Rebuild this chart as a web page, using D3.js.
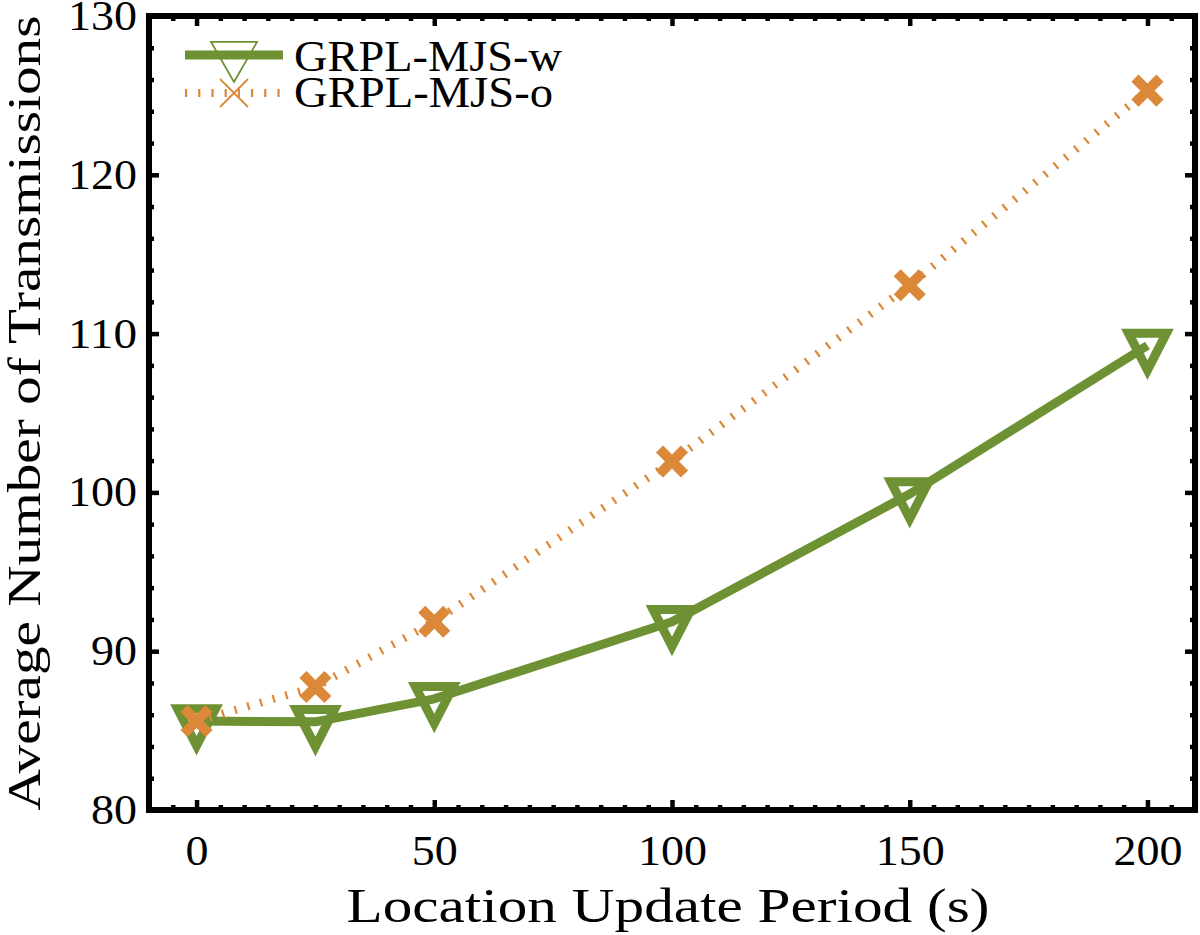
<!DOCTYPE html>
<html>
<head>
<meta charset="utf-8">
<script src="https://cdn.jsdelivr.net/npm/d3@7"></script>
<style>
  html, body { margin: 0; padding: 0; background: #fff; }
  svg { display: block; }
</style>
</head>
<body>
<script>
// ---- data ----
const periods = [0, 25, 50, 100, 150, 200];
const seriesW = [85.6, 85.55, 87.0, 91.85, 99.9, 109.25];
const seriesO = [85.6, 87.75, 91.85, 101.95, 113.05, 125.3];
const seriesNames = ["GRPL-MJS-w", "GRPL-MJS-o"];
const xTickValues = [0, 50, 100, 150, 200];
const yTickValues = [80, 90, 100, 110, 120, 130];
const xTitle = "Location Update Period (s)";
const yTitle = "Average Number of Transmissions";

// ---- layout ----
const W = 1200, H = 935;
const L = 149, R = 1195, T = 16, B = 810;
const green = "#6E9233", orange = "#DB8838";
const font = "'Liberation Serif', 'Times New Roman', serif";

const svg = d3.select("body").append("svg").attr("width", W).attr("height", H);

const x = d3.scaleLinear().domain([-10, 210]).range([L, R]);
const y = d3.scaleLinear().domain([80, 130]).range([B, T]);

const xMinor = d3.range(-5, 210, 5).filter(v => v % 50 !== 0);
const yMinor = d3.range(82, 130, 2).filter(v => v % 10 !== 0);

function styleAxis(g, labels) {
  g.select(".domain").remove();
  g.selectAll(".tick line").attr("stroke", "#000").attr("stroke-width", 4.5);
  if (labels) {
    g.selectAll(".tick text").attr("font-family", font).attr("font-size", 42).attr("fill", "#000")
      .attr("textLength", function () { return 23 * this.textContent.length; })
      .attr("lengthAdjust", "spacingAndGlyphs");
  } else {
    g.selectAll(".tick text").remove();
  }
}

// major axes
svg.append("g").attr("transform", `translate(0,${B})`)
  .call(d3.axisBottom(x).tickValues(xTickValues).tickSize(-10).tickPadding(25).tickFormat(d3.format("d")))
  .call(g => styleAxis(g, true));
svg.append("g").attr("transform", `translate(0,${T})`)
  .call(d3.axisTop(x).tickValues(xTickValues).tickSize(-10))
  .call(g => styleAxis(g, false));
svg.append("g").attr("transform", `translate(${L},0)`)
  .call(d3.axisLeft(y).tickValues(yTickValues).tickSize(-10).tickPadding(12).tickFormat(d3.format("d")))
  .call(g => styleAxis(g, true));
svg.append("g").attr("transform", `translate(${R},0)`)
  .call(d3.axisRight(y).tickValues(yTickValues).tickSize(-10))
  .call(g => styleAxis(g, false));

// minor axes
svg.append("g").attr("transform", `translate(0,${B})`)
  .call(d3.axisBottom(x).tickValues(xMinor).tickSize(-5)).call(g => styleAxis(g, false));
svg.append("g").attr("transform", `translate(0,${T})`)
  .call(d3.axisTop(x).tickValues(xMinor).tickSize(-5)).call(g => styleAxis(g, false));
svg.append("g").attr("transform", `translate(${L},0)`)
  .call(d3.axisLeft(y).tickValues(yMinor).tickSize(-5)).call(g => styleAxis(g, false));
svg.append("g").attr("transform", `translate(${R},0)`)
  .call(d3.axisRight(y).tickValues(yMinor).tickSize(-5)).call(g => styleAxis(g, false));

// frame
svg.append("rect").attr("x", L).attr("y", T).attr("width", R - L).attr("height", B - T)
  .attr("fill", "none").attr("stroke", "#000").attr("stroke-width", 6);

// markers
const triPath = (hw, hh) => {
  // down-pointing triangle, centroid at origin
  const top = -hh / 3, apex = 2 * hh / 3;
  return `M${-hw},${top}L${hw},${top}L0,${apex}Z`;
};
const xPath = h => `M${-h},${-h}L${h},${h}M${-h},${h}L${h},${-h}`;

const lineGen = d3.line().x(d => x(d[0])).y(d => y(d[1]));
const dataW = periods.map((p, i) => [p, seriesW[i]]);
const dataO = periods.map((p, i) => [p, seriesO[i]]);

// series W
svg.append("path").datum(dataW).attr("d", lineGen)
  .attr("fill", "none").attr("stroke", green).attr("stroke-width", 9).attr("stroke-linejoin", "round");
svg.append("g").selectAll("path").data(dataW).join("path")
  .attr("transform", d => `translate(${x(d[0])},${y(d[1])})`)
  .attr("d", triPath(19, 37))
  .attr("fill", "none").attr("stroke", green).attr("stroke-width", 9).attr("stroke-linejoin", "miter");

// series O
svg.append("path").datum(dataO).attr("d", lineGen)
  .attr("fill", "none").attr("stroke", orange).attr("stroke-width", 8).attr("stroke-dasharray", "2.2,11");
svg.append("g").selectAll("path").data(dataO).join("path")
  .attr("transform", d => `translate(${x(d[0])},${y(d[1])})`)
  .attr("d", xPath(12.5))
  .attr("fill", "none").attr("stroke", orange).attr("stroke-width", 10).attr("stroke-linecap", "butt");

// legend
const lg = svg.append("g");
lg.append("line").attr("x1", 185).attr("x2", 283).attr("y1", 55).attr("y2", 55)
  .attr("stroke", green).attr("stroke-width", 9);
lg.append("path").attr("transform", "translate(234,55.3)").attr("d", triPath(23, 40))
  .attr("fill", "none").attr("stroke", green).attr("stroke-width", 1.8);
lg.append("line").attr("x1", 185).attr("x2", 283).attr("y1", 93).attr("y2", 93)
  .attr("stroke", orange).attr("stroke-width", 8).attr("stroke-dasharray", "2.2,11");
lg.append("path").attr("transform", "translate(234,93)").attr("d", xPath(14))
  .attr("fill", "none").attr("stroke", orange).attr("stroke-width", 1.8);
lg.append("text").attr("x", 294).attr("y", 71).text(seriesNames[0])
  .attr("font-family", font).attr("font-size", 44)
  .attr("textLength", 268).attr("lengthAdjust", "spacingAndGlyphs");
lg.append("text").attr("x", 294).attr("y", 107).text(seriesNames[1])
  .attr("font-family", font).attr("font-size", 44)
  .attr("textLength", 259).attr("lengthAdjust", "spacingAndGlyphs");

// titles
svg.append("text").attr("x", 668).attr("y", 922).attr("text-anchor", "middle")
  .attr("font-family", font).attr("font-size", 48)
  .attr("textLength", 643).attr("lengthAdjust", "spacingAndGlyphs").text(xTitle);
svg.append("text").attr("transform", "translate(40,413) rotate(-90)").attr("text-anchor", "middle")
  .attr("font-family", font).attr("font-size", 47)
  .attr("textLength", 795).attr("lengthAdjust", "spacingAndGlyphs").text(yTitle);
</script>
</body>
</html>
